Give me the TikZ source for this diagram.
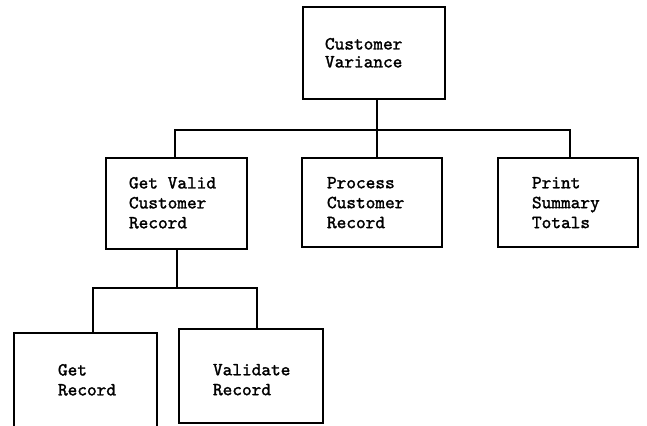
\documentclass[tikz,border=0pt]{standalone}
\usepackage{fontspec}
% typewriter face with a heavier stroke
\newfontfamily\typer{lmmono10-regular.otf}[FakeBold=1.6]
\begin{document}
\begin{tikzpicture}[x=1bp,y=-1bp,
  every node/.style={inner sep=0pt,outer sep=0pt},
  module/.style={draw,line width=2bp,rectangle},
  label text/.style={anchor=north west,align=left,
    font=\typer\fontsize{18.5}{20}\selectfont},
  link/.style={line width=2bp}]
  \useasboundingbox (0,0) rectangle (647,425);
  \clip (0,0) rectangle (647,425);

  % module boxes
  \node[module,minimum width=142bp,minimum height=92bp] (top) at (374,53) {};
  \node[module,minimum width=141bp,minimum height=91bp] (gvc) at (176.5,203.5) {};
  \node[module,minimum width=140bp,minimum height=89bp] (pcr) at (372,202.5) {};
  \node[module,minimum width=140bp,minimum height=89bp] (pst) at (568,202.5) {};
  \node[module,minimum width=143bp,minimum height=110bp] (gr) at (85.5,388) {};
  \node[module,minimum width=144bp,minimum height=94bp] (vr) at (251,376) {};

  % box labels
  \node[label text,font=\typer\fontsize{18.5}{18}\selectfont] (ttop) at (325,38) {Customer\\Variance};
  \node[label text] (tgvc) at (129,177) {Get Valid\\Customer\\Record};
  \node[label text] (tpcr) at (327,177) {Process\\Customer\\Record};
  \node[label text] (tpst) at (532,177) {Print\\Summary\\Totals};
  \node[label text] (tgr) at (58,364) {Get\\Record};
  \node[label text] (tvr) at (213,364) {Validate\\Record};

  % connector junctions
  \coordinate (busT) at (377,130);
  \coordinate (busB) at (177,288);

  % first level connectors
  \draw[link] ([xshift=3bp]top.south) -- ([xshift=3bp]top.south |- busT);
  \draw[link] ([xshift=-1.5bp]gvc.north) |- (busT) -| ([xshift=2bp]pst.north);
  \draw[link] ([xshift=5bp]pcr.north) -- ([xshift=5bp]pcr.north |- busT);

  % second level connectors
  \draw[link] (gvc.south) -- (gvc.south |- busB);
  \draw[link] ([xshift=7.5bp]gr.north) |- (busB) -| ([xshift=6bp]vr.north);
\end{tikzpicture}
\end{document}
